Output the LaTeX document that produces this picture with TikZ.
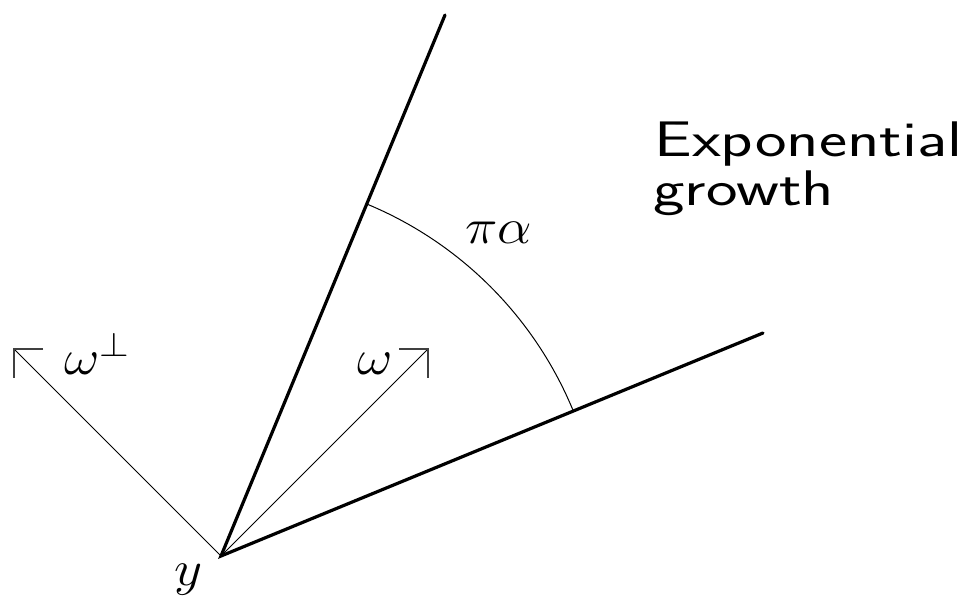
\documentclass[tikz,border=0pt]{standalone}
\usepackage{graphicx}
\usetikzlibrary{calc}
\begin{document}
\begin{tikzpicture}[x=0.5pt,y=-0.5pt,
  thickline/.style={line width=1.6pt, line cap=round},
  thinline/.style={line width=0.5pt},
  tipline/.style={line width=0.6pt, black!75},
  mlabel/.style={inner sep=0pt, anchor=base west, font=\fontsize{25}{30}\selectfont},
  slabel/.style={inner sep=0pt, anchor=base west, font=\fontsize{25}{30}\selectfont\sffamily}]
\useasboundingbox (0,0) rectangle (972,597);
\coordinate (O) at (221,556);
\coordinate (A) at (445,15);
\coordinate (B) at (763,333);
\coordinate (W) at (428,349);
\coordinate (Wp) at (14,349);
\coordinate (Wa) at (399,349);
\coordinate (Wb) at (428,378);
\coordinate (Pa) at (43,349);
\coordinate (Pb) at (14,378);
\draw[thickline] (A) -- (O) -- (B);
\draw[thinline] (O) -- (W);
\draw[thinline] (O) -- (Wp);
\draw[tipline] (Wa) -- (W) -- (Wb);
\draw[tipline] (Pa) -- (Wp) -- (Pb);
\draw[thinline] ($(O)+(-22.5:381)$) arc[start angle=-22.5, end angle=-67.5, radius=381];
\node[mlabel] (pa) at (465,244) {\scalebox{1.1}[1]{$\pi\alpha$}};
\node[mlabel] (w) at (357,375) {\scalebox{1.1}[1]{$\omega$}};
\node[mlabel] (wp) at (64,375) {\scalebox{1.1}[1]{$\omega^{\perp}$}};
\node[mlabel] (y) at (174,585) {\scalebox{1.1}[1]{$y$}};
\node[slabel] (e1) at (654,157) {\scalebox{1.34}[1]{Exponential}};
\node[slabel] (e2) at (653,206) {\scalebox{1.34}[1]{growth}};
\end{tikzpicture}
\end{document}
